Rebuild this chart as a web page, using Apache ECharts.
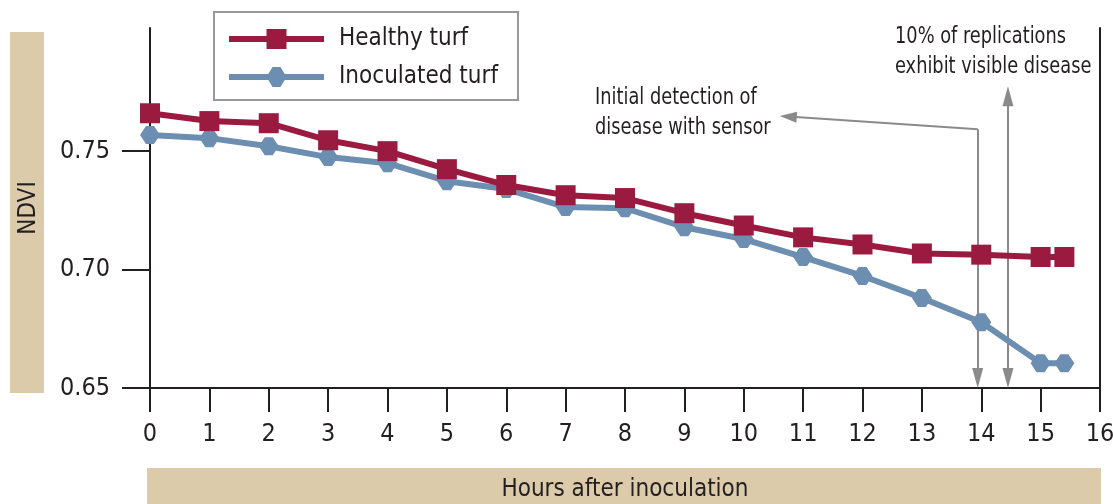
<!DOCTYPE html>
<html>
<head>
<meta charset="utf-8">
<script src="https://cdn.jsdelivr.net/npm/echarts@6/dist/echarts.min.js"></script>
<style>
  html, body { margin: 0; padding: 0; background: #fff; }
  #chart { width: 1113px; height: 504px; }
</style>
</head>
<body>
<div id="chart"></div>
<script>
var hours = [0, 1, 2, 3, 4, 5, 6, 7, 8, 9, 10, 11, 12, 13, 14, 15, 15.4]
var healthy = [0.766, 0.7627, 0.7618, 0.7546, 0.750, 0.7424, 0.7357, 0.7314, 0.7302,
  0.7238, 0.7186, 0.7136, 0.7106, 0.7068, 0.7063, 0.7053, 0.7053]
var inoculated = [0.7568, 0.7555, 0.7521, 0.7475, 0.7449, 0.7373, 0.734, 0.7264, 0.7259,
  0.7179, 0.7129, 0.7053, 0.6973, 0.688, 0.6778, 0.6605, 0.6605]
var yTicks = [0.65, 0.70, 0.75]

// annotation arrows, in data units (heads are centred on the end points)
var detectX = 13.94
var visibleX = 14.45
var detectBend = 0.7593
var detectTip = [10.75, 0.7646]
var visibleTop = 0.7732
var arrowFoot = 0.6542

var FONT = "'DejaVu Sans Condensed', 'Liberation Sans Narrow', sans-serif"
var INK = '#231f20'
var BEIGE = '#dbcbab'
var GREY = '#8a8a8a'
var HEX = 'path://M0,9L6,0L14,0L20,9L14,18L6,18Z'

function pairs(xs, ys) {
  return xs.map(function (x, i) { return [x, ys[i]] })
}

var chart = echarts.init(document.getElementById('chart'))

var option = {
  animation: false,
  textStyle: { fontFamily: FONT, color: INK },
  grid: { left: 150, right: 13, top: 28, bottom: 116, outerBoundsMode: 'none' },
  legend: {
    orient: 'vertical',
    left: 214,
    top: 12,
    padding: [12, 20, 8, 12],
    borderColor: '#999',
    borderWidth: 2,
    itemWidth: 95,
    itemHeight: 25,
    itemGap: 8,
    lineStyle: { width: 6 },
    textStyle: { fontFamily: FONT, fontSize: 24, color: INK, lineHeight: 30, padding: [0, 0, 0, 10] },
    data: ['Healthy turf', 'Inoculated turf']
  },
  xAxis: {
    type: 'value',
    min: 0,
    max: 16,
    interval: 1,
    name: 'Hours after inoculation',
    nameLocation: 'middle',
    nameGap: 87,
    nameTextStyle: { fontFamily: FONT, fontSize: 24, color: INK, lineHeight: 30 },
    splitLine: { show: false },
    axisLine: { lineStyle: { color: INK, width: 2 } },
    axisTick: { length: 24, lineStyle: { color: INK, width: 2 } },
    axisLabel: { margin: 34, fontSize: 25, color: INK, fontFamily: FONT }
  },
  yAxis: [
    {
      type: 'value',
      min: 0.65,
      max: 0.802,
      name: 'NDVI',
      nameLocation: 'middle',
      nameRotate: 90,
      nameGap: 104,
      nameTextStyle: { fontFamily: FONT, fontSize: 24, color: INK, lineHeight: 34 },
      splitLine: { show: false },
      axisLine: { show: true, lineStyle: { color: INK, width: 2 } },
      axisTick: { show: true, length: 28, customValues: yTicks, lineStyle: { color: INK, width: 2 } },
      axisLabel: {
        margin: 40,
        fontSize: 25,
        color: INK,
        fontFamily: FONT,
        customValues: yTicks,
        formatter: function (v) { return v.toFixed(2) }
      }
    },
    {
      type: 'value',
      position: 'right',
      min: 0.65,
      max: 0.802,
      splitLine: { show: false },
      axisLine: { show: true, lineStyle: { color: INK, width: 2 } },
      axisTick: { show: false },
      axisLabel: { show: false }
    }
  ],
  graphic: [
    // beige bands behind the axis titles
    { type: 'rect', z: -10, shape: { x: 10, y: 32, width: 34, height: 361 }, style: { fill: BEIGE } },
    { type: 'rect', z: -10, shape: { x: 147, y: 468, width: 954, height: 40 }, style: { fill: BEIGE } },
    {
      type: 'text',
      x: 595,
      y: 83,
      scaleX: 0.86,
      style: {
        text: 'Initial detection of\ndisease with sensor',
        font: '23px ' + FONT,
        fill: INK,
        lineHeight: 30,
        verticalAlign: 'top'
      }
    },
    {
      type: 'text',
      x: 895,
      y: 22,
      scaleX: 0.86,
      style: {
        text: '10% of replications\nexhibit visible disease',
        font: '23px ' + FONT,
        fill: INK,
        lineHeight: 30,
        verticalAlign: 'top'
      }
    }
  ],
  series: [
    {
      name: 'Inoculated turf',
      type: 'line',
      data: pairs(hours, inoculated),
      symbol: HEX,
      symbolSize: [20, 18],
      showAllSymbol: true,
      itemStyle: { color: '#6c8eb0' },
      lineStyle: { color: '#6c8eb0', width: 6 },
      z: 3,
      markLine: {
        silent: true,
        z: 1,
        animation: false,
        label: { show: false },
        lineStyle: { color: GREY, width: 2, type: 'solid' },
        symbolSize: [11, 20],
        data: [
          [
            { coord: [detectX, detectBend], symbol: 'none' },
            { coord: [detectX, arrowFoot], symbol: 'triangle' }
          ],
          [
            { coord: [detectX, detectBend], symbol: 'none' },
            { coord: detectTip, symbol: 'triangle', symbolSize: [11, 17] }
          ],
          [
            { coord: [visibleX, visibleTop], symbol: 'triangle' },
            { coord: [visibleX, arrowFoot], symbol: 'triangle' }
          ]
        ]
      }
    },
    {
      name: 'Healthy turf',
      type: 'line',
      data: pairs(hours, healthy),
      symbol: 'rect',
      symbolSize: 20,
      showAllSymbol: true,
      itemStyle: { color: '#9b1b40' },
      lineStyle: { color: '#9b1b40', width: 6 },
      z: 4
    }
  ]
}

chart.setOption(option)
</script>
</body>
</html>
